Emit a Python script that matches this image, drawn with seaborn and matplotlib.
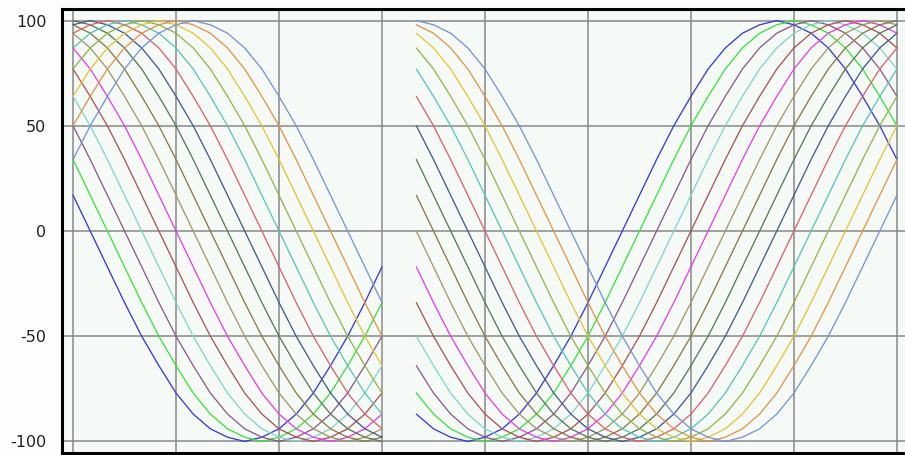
import pandas as pd
import seaborn as sns
import matplotlib.pyplot as plt

# x positions of the two parts of the chart (a break between them)
x_left = list(range(0, 19))
x_right = list(range(20, 49))

# values, one list per curve (left part, right part)
left_vals = [
    [17, 0, -17, -34, -50, -64, -77, -87, -94, -98, -100, -98, -94, -87, -77, -64, -50, -34, -17],
    [34, 17, 0, -17, -34, -50, -64, -77, -87, -94, -98, -100, -98, -94, -87, -77, -64, -50, -34],
    [50, 34, 17, 0, -17, -34, -50, -64, -77, -87, -94, -98, -100, -98, -94, -87, -77, -64, -50],
    [64, 50, 34, 17, 0, -17, -34, -50, -64, -77, -87, -94, -98, -100, -98, -94, -87, -77, -64],
    [77, 64, 50, 34, 17, 0, -17, -34, -50, -64, -77, -87, -94, -98, -100, -98, -94, -87, -77],
    [87, 77, 64, 50, 34, 17, 0, -17, -34, -50, -64, -77, -87, -94, -98, -100, -98, -94, -87],
    [94, 87, 77, 64, 50, 34, 17, 0, -17, -34, -50, -64, -77, -87, -94, -98, -100, -98, -94],
    [98, 94, 87, 77, 64, 50, 34, 17, 0, -17, -34, -50, -64, -77, -87, -94, -98, -100, -98],
    [100, 98, 94, 87, 77, 64, 50, 34, 17, 0, -17, -34, -50, -64, -77, -87, -94, -98, -100],
    [98, 100, 98, 94, 87, 77, 64, 50, 34, 17, 0, -17, -34, -50, -64, -77, -87, -94, -98],
    [94, 98, 100, 98, 94, 87, 77, 64, 50, 34, 17, 0, -17, -34, -50, -64, -77, -87, -94],
    [87, 94, 98, 100, 98, 94, 87, 77, 64, 50, 34, 17, 0, -17, -34, -50, -64, -77, -87],
    [77, 87, 94, 98, 100, 98, 94, 87, 77, 64, 50, 34, 17, 0, -17, -34, -50, -64, -77],
    [64, 77, 87, 94, 98, 100, 98, 94, 87, 77, 64, 50, 34, 17, 0, -17, -34, -50, -64],
    [50, 64, 77, 87, 94, 98, 100, 98, 94, 87, 77, 64, 50, 34, 17, 0, -17, -34, -50],
    [34, 50, 64, 77, 87, 94, 98, 100, 98, 94, 87, 77, 64, 50, 34, 17, 0, -17, -34],
]

right_vals = [
    [-87, -94, -98, -100, -98, -94, -87, -77, -64, -50, -34, -17, 0, 17, 34, 50, 64, 77, 87, 94, 98, 100, 98, 94, 87, 77, 64, 50, 34],
    [-77, -87, -94, -98, -100, -98, -94, -87, -77, -64, -50, -34, -17, 0, 17, 34, 50, 64, 77, 87, 94, 98, 100, 98, 94, 87, 77, 64, 50],
    [-64, -77, -87, -94, -98, -100, -98, -94, -87, -77, -64, -50, -34, -17, 0, 17, 34, 50, 64, 77, 87, 94, 98, 100, 98, 94, 87, 77, 64],
    [-50, -64, -77, -87, -94, -98, -100, -98, -94, -87, -77, -64, -50, -34, -17, 0, 17, 34, 50, 64, 77, 87, 94, 98, 100, 98, 94, 87, 77],
    [-34, -50, -64, -77, -87, -94, -98, -100, -98, -94, -87, -77, -64, -50, -34, -17, 0, 17, 34, 50, 64, 77, 87, 94, 98, 100, 98, 94, 87],
    [-17, -34, -50, -64, -77, -87, -94, -98, -100, -98, -94, -87, -77, -64, -50, -34, -17, 0, 17, 34, 50, 64, 77, 87, 94, 98, 100, 98, 94],
    [0, -17, -34, -50, -64, -77, -87, -94, -98, -100, -98, -94, -87, -77, -64, -50, -34, -17, 0, 17, 34, 50, 64, 77, 87, 94, 98, 100, 98],
    [17, 0, -17, -34, -50, -64, -77, -87, -94, -98, -100, -98, -94, -87, -77, -64, -50, -34, -17, 0, 17, 34, 50, 64, 77, 87, 94, 98, 100],
    [34, 17, 0, -17, -34, -50, -64, -77, -87, -94, -98, -100, -98, -94, -87, -77, -64, -50, -34, -17, 0, 17, 34, 50, 64, 77, 87, 94, 98],
    [50, 34, 17, 0, -17, -34, -50, -64, -77, -87, -94, -98, -100, -98, -94, -87, -77, -64, -50, -34, -17, 0, 17, 34, 50, 64, 77, 87, 94],
    [64, 50, 34, 17, 0, -17, -34, -50, -64, -77, -87, -94, -98, -100, -98, -94, -87, -77, -64, -50, -34, -17, 0, 17, 34, 50, 64, 77, 87],
    [77, 64, 50, 34, 17, 0, -17, -34, -50, -64, -77, -87, -94, -98, -100, -98, -94, -87, -77, -64, -50, -34, -17, 0, 17, 34, 50, 64, 77],
    [87, 77, 64, 50, 34, 17, 0, -17, -34, -50, -64, -77, -87, -94, -98, -100, -98, -94, -87, -77, -64, -50, -34, -17, 0, 17, 34, 50, 64],
    [94, 87, 77, 64, 50, 34, 17, 0, -17, -34, -50, -64, -77, -87, -94, -98, -100, -98, -94, -87, -77, -64, -50, -34, -17, 0, 17, 34, 50],
    [98, 94, 87, 77, 64, 50, 34, 17, 0, -17, -34, -50, -64, -77, -87, -94, -98, -100, -98, -94, -87, -77, -64, -50, -34, -17, 0, 17, 34],
    [100, 98, 94, 87, 77, 64, 50, 34, 17, 0, -17, -34, -50, -64, -77, -87, -94, -98, -100, -98, -94, -87, -77, -64, -50, -34, -17, 0, 17],
]

curve_colors = [
    "#3b3bd4", "#3fe03f", "#8c5c8c", "#84d4cc", "#a8565a", "#e442e4",
    "#a09a66", "#8a7a44", "#5a7a5a", "#4a5a8c", "#d8646e", "#5cc4b8",
    "#94b44c", "#e4c43a", "#e0944a", "#7894d4",
]

# long table for seaborn
rows = []
for i in range(len(left_vals)):
    for x, y in zip(x_left, left_vals[i]):
        rows.append({"x": x, "y": y, "curve": i, "part": 0})
    for x, y in zip(x_right, right_vals[i]):
        rows.append({"x": x, "y": y, "curve": i, "part": 1})
df = pd.DataFrame(rows)

sns.set_style("white")
plt.rcParams["font.family"] = ["DejaVu Sans"]
plt.rcParams["axes.unicode_minus"] = False

fig = plt.figure(figsize=(9.05, 4.55), dpi=100, facecolor="#fcfdfc")
ax = fig.add_axes([0.068, 0.0044, 0.932, 0.9758])
ax.set_facecolor("#f6faf7")

sns.lineplot(data=df, x="x", y="y", hue="curve", units="part", estimator=None,
             palette=curve_colors, linewidth=0.95, legend=False, ax=ax, sort=False)

ax.set_xlim(-0.67, 48.47)
ax.set_ylim(-105.5, 105.5)
ax.set_xticks([0, 6, 12, 18, 24, 30, 36, 42, 48])
ax.set_yticks([-100, -50, 0, 50, 100])
ax.set_xticklabels([])
ax.grid(True, color="#888888", linewidth=1.1)
ax.set_axisbelow(True)
ax.tick_params(axis="x", length=0)
ax.tick_params(axis="y", length=8, width=1, color="black", pad=3, labelsize=11.5, labelcolor="#222222")
ax.set_xlabel("")
ax.set_ylabel("")
for side in ["left", "top", "bottom"]:
    ax.spines[side].set_color("black")
    ax.spines[side].set_linewidth(2.2)
ax.spines["right"].set_visible(False)

fig.savefig("out.png", dpi=100, facecolor=fig.get_facecolor())
